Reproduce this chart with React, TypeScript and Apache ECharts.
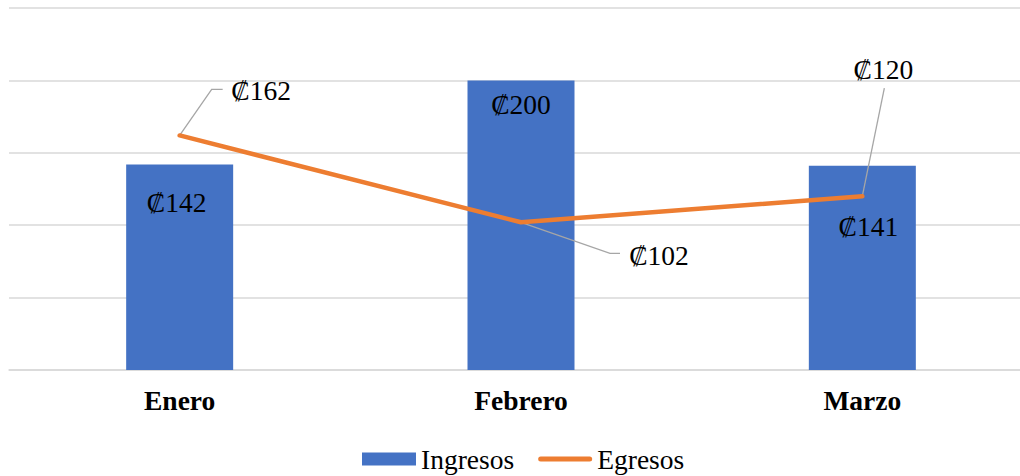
import React, { useEffect, useRef } from "react";
import * as echarts from "echarts";

const categories = ["Enero", "Febrero", "Marzo"];
const ingresos = [142, 200, 141];
const egresos = [162, 102, 120];
const yMax = 250;
const yInterval = 50;

export default function App() {
  const ref = useRef<HTMLDivElement>(null);
  useEffect(() => {
    document.body.style.margin = "0";
    document.body.style.overflow = "hidden";
    document.documentElement.style.overflow = "hidden";
    const chart = echarts.init(ref.current!, null, { renderer: "svg" });
    const font = "Liberation Serif";
    const fs = 27.5;
    const barLabelDist = [24, 10, 47];
    const barLabelDx = [-3, 0, 6];
    const lineLabelShift = [
      [81.5, -26],
      [138, 52],
      [21, -108],
    ];
    // leader line bends, relative to each line point
    const leaderBends = [
      [
        [32, -46],
        [43, -46],
      ],
      [
        [89, 31],
        [99, 31],
      ],
      [[22, -108]],
    ];
    const labelFont = { fontFamily: font, fontSize: fs, color: "#000" };
    chart.setOption({
      animation: false,
      textStyle: { fontFamily: font },
      grid: { left: 9, top: 8, right: 7, height: 362, containLabel: false },
      legend: {
        top: 440,
        left: 357,
        itemGap: 24,
        itemWidth: 54,
        itemHeight: 13,
        textStyle: { fontFamily: font, fontSize: fs, color: "#000" },
        data: [
          { name: "Ingresos", icon: "rect" },
          {
            name: "Egresos",
            icon: "path://M2.5,0 H51.5 A2.5,2.5 0 0 1 51.5,5 H2.5 A2.5,2.5 0 0 1 2.5,0 Z",
          },
        ],
      },
      xAxis: {
        type: "category",
        data: categories,
        axisTick: { show: false },
        axisLine: { lineStyle: { color: "#d9d9d9", width: 1.5 } },
        axisLabel: {
          margin: 16,
          fontFamily: font,
          fontSize: fs,
          fontWeight: "bold",
          color: "#000",
        },
      },
      yAxis: {
        type: "value",
        min: 0,
        max: yMax,
        interval: yInterval,
        axisLabel: { show: false },
        axisLine: { show: false },
        axisTick: { show: false },
        splitLine: { lineStyle: { color: "#d9d9d9", width: 1.5 } },
      },
      series: [
        {
          name: "Ingresos",
          type: "bar",
          barWidth: 107,
          itemStyle: { color: "#4472C4" },
          data: ingresos.map((v, i) => ({
            value: v,
            label: {
              ...labelFont,
              distance: barLabelDist[i],
              offset: [barLabelDx[i], 0],
            },
          })),
          label: {
            show: true,
            position: "insideTop",
            formatter: "₡{c}",
            ...labelFont,
          },
          z: 1,
        },
        {
          name: "Egresos",
          type: "line",
          symbol: "circle",
          symbolSize: 0.01,
          showSymbol: true,
          data: egresos,
          lineStyle: { color: "#ED7D31", width: 4.5, cap: "round" },
          itemStyle: { color: "#ED7D31" },
          label: {
            show: true,
            position: "top",
            formatter: "₡{c}",
            ...labelFont,
          },
          labelLayout: (p: any) => ({
            dx: lineLabelShift[p.dataIndex][0],
            dy: lineLabelShift[p.dataIndex][1],
          }),
          z: 3,
        },
      ],
    });
    const leaders = egresos.map((v, i) => {
      const [x, y] = chart.convertToPixel({ seriesIndex: 1 }, [i, v]) as number[];
      const pts = [[x, y], ...leaderBends[i].map(([bx, by]) => [x + bx, y + by])];
      return {
        type: "polyline",
        z: 2,
        shape: { points: pts },
        style: { stroke: "#a6a6a6", lineWidth: 1.3, fill: null },
        silent: true,
      };
    });
    chart.setOption({ graphic: leaders });
    return () => chart.dispose();
  }, []);
  return <div ref={ref} style={{ width: 1040, height: 476 }} />;
}
